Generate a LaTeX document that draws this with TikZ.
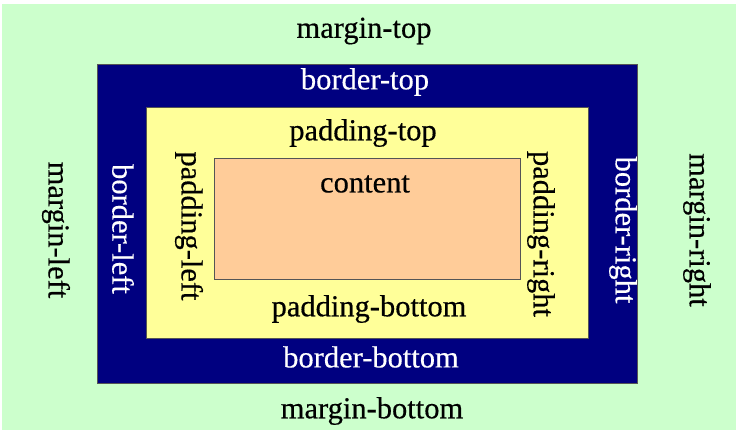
\documentclass[tikz,border=0pt]{standalone}
\usepackage{fontspec}
\setmainfont[FakeBold=0.4]{Liberation Serif}
\definecolor{mgreen}{HTML}{CCFFCC}
\definecolor{bnavy}{HTML}{000080}
\definecolor{pyellow}{HTML}{FFFF99}
\definecolor{corange}{HTML}{FFCC99}
\definecolor{edge}{HTML}{555555}
\begin{document}
\begin{tikzpicture}[x=1pt,y=-1pt,
  lab/.style={font=\fontsize{30.5}{33}\selectfont, inner sep=0pt, anchor=center},
  dark/.style={lab, text=black},
  light/.style={lab, text=white},
  box/.style={draw=edge, line width=1pt}]
\useasboundingbox (0,0) rectangle (744,434);
\fill[white] (0,0) rectangle (744,434);
\fill[mgreen] (2,4) rectangle (736,430);
\filldraw[box, fill=bnavy] (97,64) rectangle (637,383);
\filldraw[box, fill=pyellow] (146,107) rectangle (588,338);
\filldraw[box, fill=corange] (214,158) rectangle (520,279);
\node[dark] (mt) at (364,31) {margin-top};
\node[light] (bt) at (365,82) {border-top};
\node[dark] (pt) at (363,133) {padding-top};
\node[dark] (ct) at (365,184) {content};
\node[dark] (pb) at (369,309) {padding-bottom};
\node[light] (bb) at (371,357) {border-bottom};
\node[dark] (mb) at (372,411) {margin-bottom};
\node[dark, rotate=-90] (ml) at (56,230) {margin-left};
\node[light, rotate=-90] (bl) at (123,229) {border-left};
\node[dark, rotate=-90] (pl) at (189,226) {padding-left};
\node[dark, rotate=-90] (pr) at (541,234) {padding-right};
\node[light, rotate=-90] (br) at (623,230) {border-right};
\node[dark, rotate=-90] (mr) at (697,230) {margin-right};
\end{tikzpicture}
\end{document}
